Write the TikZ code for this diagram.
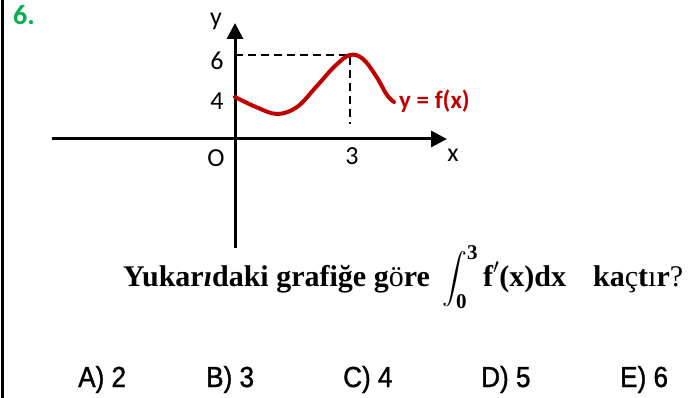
\RequirePackage{fix-cm}
\documentclass[tikz,border=0pt]{standalone}
\usepackage{amsmath}
\usepackage{exscale}
\usepackage{fontspec}
\setmainfont{Liberation Serif}
\newfontfamily\calib{Carlito}
\newfontfamily\narrow[FakeStretch=0.9, FakeBold=1.2]{Liberation Sans}
\usetikzlibrary{arrows.meta}
\definecolor{curvered}{HTML}{C00000}
\definecolor{numgreen}{HTML}{00B050}

\begin{document}
\begin{tikzpicture}[x=1pt, y=-1pt,
    axis/.style = {line width=3pt, -{Triangle[length=16pt,width=16pt]}},
    guide/.style = {line width=2.5pt, dash pattern=on 8pt off 5pt},
    lbl/.style = {inner sep=0pt, anchor=base, font=\calib\fontsize{26}{30}\selectfont},
    choice/.style = {inner sep=0pt, anchor=base west, font=\narrow\fontsize{29}{32}\selectfont},
    qtext/.style = {inner sep=0pt, anchor=base west, font=\bfseries\fontsize{30}{34}\selectfont},
    qmath/.style = {inner sep=0pt, anchor=base west, font=\fontsize{30}{34}\selectfont}
]
\useasboundingbox (0,0) rectangle (694,398);
\draw[line width=3pt] (2,0) -- (2,398);
\node (num) [inner sep=0pt, anchor=base west, text=numgreen, font=\calib\bfseries\fontsize{28}{32}\selectfont] at (13,25) {6.};

% axes
\coordinate (xl) at (52,139);
\coordinate (xr) at (447,139);
\coordinate (yb) at (235,248);
\coordinate (yt) at (235,23);
\draw [axis] (xl) -- (xr);
\draw [axis] (yb) -- (yt);
\node (ylab) [lbl] at (216,26) {y};
\node (xlab) [lbl] at (453,162) {x};
\node (orig) [lbl] at (216,167) {O};
\node (six) [lbl] at (217,70) {6};
\node (four) [lbl] at (217,110) {4};
\node (three) [lbl] at (352,165) {3};

% dashed guides to the peak
\coordinate (y6) at (235,55);
\coordinate (peak) at (350,55);
\coordinate (foot) at (350,124);
\draw [guide] (y6) -- (peak) -- (foot);

% the curve
\draw [curvered, line width=4pt, line cap=round] plot[smooth, tension=0.6] coordinates {(235,97) (256,107) (277,114) (297,107) (316,87) (335,66) (350,55) (363,59) (376,76) (387,95) (394,102)};
\node (flab) [inner sep=0pt, anchor=base west, text=curvered, font=\calib\bfseries\fontsize{25}{28}\selectfont] at (399,109) {y = f(x)};

% question
\node (q1) [qtext] at (123,287) {Yukar{\itshape ı}daki grafiğe g{\mdseries ö}re};
\node (q2) [qmath] at (442,287) {$\displaystyle\int_{\textbf{0}}^{\textbf{3}}\textbf{f}'\textbf{(x)dx}$};
\node (q3) [qtext] at (593,287) {ka{\mdseries ç}t{\mdseries ı}r{\mdseries ?}};

% choices
\node (ca) [choice] at (78,387) {A) 2};
\node (cb) [choice] at (206,387) {B) 3};
\node (cc) [choice] at (343,387) {C) 4};
\node (cd) [choice] at (481,387) {D) 5};
\node (ce) [choice] at (620,387) {E) 6};
\end{tikzpicture}
\end{document}
